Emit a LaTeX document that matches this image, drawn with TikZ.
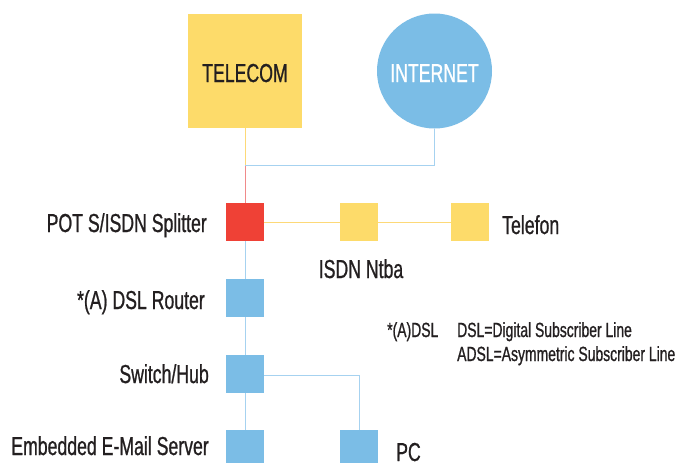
\documentclass[tikz,border=0pt]{standalone}
\usepackage{fontspec}
\setmainfont{Liberation Sans}[FakeStretch=0.68,FakeBold=0.8]
\definecolor{cyel}{HTML}{FDDB6A}
\definecolor{cred}{HTML}{EF4136}
\definecolor{cblue}{HTML}{7BBDE6}
\definecolor{lyel}{HTML}{FDD978}
\definecolor{lred}{HTML}{F08A8A}
\definecolor{lblue}{HTML}{A6D2F0}
\definecolor{ctext}{HTML}{231F20}
\begin{document}
\begin{tikzpicture}[x=1pt,y=-1pt,
  box/.style={draw=none,minimum size=38pt,inner sep=0pt},
  lbl/.style={text=ctext,font=\fontsize{26}{28}\selectfont,inner sep=0pt},
  leg/.style={text=ctext,font=\fontsize{20.5}{23}\selectfont,inner sep=0pt},
  ylw/.style={draw=lyel,line width=1pt},
  rd/.style={draw=lred,line width=1pt},
  bl/.style={draw=lblue,line width=1pt}]
\useasboundingbox (0,0) rectangle (680,463);
\fill[white] (0,0) rectangle (680,463);
% nodes
\node[box,fill=cyel,minimum size=114pt] (tel) at (245,71) {};
\node[lbl,anchor=base] (teltxt) at (245,82) {TELECOM};
\node[circle,fill=cblue,minimum size=115pt,inner sep=0pt] (inet) at (434.5,71) {};
\node[lbl,text=white,anchor=base] (inettxt) at (434.5,82) {INTERNET};
\node[box,fill=cred] (split) at (245,222) {};
\node[box,fill=cyel] (ntba) at (359,222) {};
\node[box,fill=cyel] (fon) at (470,222) {};
\node[box,fill=cblue] (rout) at (245,298) {};
\node[box,fill=cblue] (sw) at (245,374) {};
\node[box,fill=cblue] (mail) at (245,449) {};
\node[box,fill=cblue] (pc) at (359,449) {};
\coordinate (j) at (245,165);
% labels
\node[lbl,anchor=base east] (splittxt) at (207,232) {POT S/ISDN Splitter};
\node[lbl,anchor=base] (ntbatxt) at (361,278) {ISDN Ntba};
\node[lbl,anchor=base west] (fontxt) at (502,234) {Telefon};
\node[lbl,anchor=base east] (routtxt) at (205,309) {*(A) DSL Router};
\node[lbl,anchor=base east] (swtxt) at (209,383) {Switch/Hub};
\node[lbl,anchor=base east] (mailtxt) at (209,455) {Embedded E-Mail Server};
\node[lbl,anchor=base west] (pctxt) at (396,461) {PC};
\node[leg,anchor=base west] (leg1) at (387,337) {*(A)DSL};
\node[leg,anchor=base west] (leg2) at (457,337) {DSL=Digital Subscriber Line};
\node[leg,anchor=base west] (leg3) at (457,361) {ADSL=Asymmetric Subscriber Line};
% connectors
\draw[ylw] (tel.south) -- (j);
\draw[rd] (j) -- (split.north);
\draw[bl] (j) -- (j -| inet.south) -- (inet.south);
\draw[ylw] (split.east) -- (ntba.west);
\draw[ylw] (ntba.east) -- (fon.west);
\draw[bl] (split.south) -- (rout.north);
\draw[bl] (rout.south) -- (sw.north);
\draw[bl] (sw.south) -- (mail.north);
\draw[bl] ([yshift=-1pt]sw.east) -- ([yshift=-1pt]sw.east -| pc.north) -- (pc.north);
\end{tikzpicture}
\end{document}
